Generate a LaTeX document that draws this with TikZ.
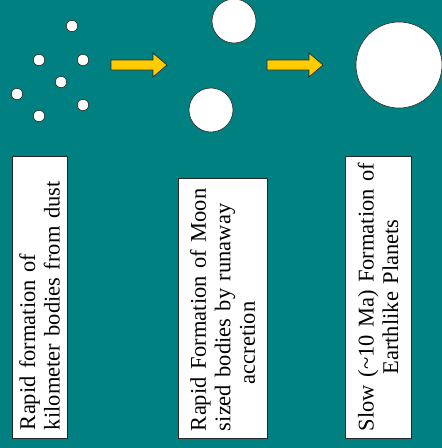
\documentclass[tikz,border=0pt]{standalone}
\usepackage{fontspec}
\setmainfont{Liberation Serif}
\usepackage{tikz}

\definecolor{teal}{RGB}{0,128,128}
\definecolor{gold}{RGB}{255,204,0}
\definecolor{edge}{RGB}{40,40,40}

\tikzset{
  dust/.style={draw=edge, fill=white, line width=0.6pt},
  push/.style={draw=edge, fill=gold, line width=0.7pt, line join=miter},
  stage/.style={draw=edge, fill=white, rotate=90, line width=0.6pt,
    font=\fontsize{22.5pt}{24.5pt}\selectfont, inner ysep=0pt}
}

\begin{document}
\begin{tikzpicture}[x=1pt, y=-1pt]
   \fill [teal] (0, 0) rectangle (442, 448);
   \useasboundingbox (0, 0) rectangle (442, 448);

   % small bodies
   \draw [dust] (72, 26) circle (5.7pt);
   \draw [dust] (39, 60) circle (5.7pt);
   \draw [dust] (83, 60) circle (5.7pt);
   \draw [dust] (61, 82) circle (5.7pt);
   \draw [dust] (17, 94) circle (5.7pt);
   \draw [dust] (83, 105) circle (5.7pt);
   \draw [dust] (39, 116) circle (5.7pt);

   % arrows
   \draw [push] (111, 60) -- (153, 60) -- (153, 53) -- (167, 65) -- (153, 77)
      -- (153, 70) -- (111, 70) -- cycle;
   \draw [push] (267, 60) -- (309, 60) -- (309, 53) -- (323, 65) -- (309, 77)
      -- (309, 70) -- (267, 70) -- cycle;

   % moon sized bodies
   \draw [dust] (234, 21) circle (22pt);
   \draw [dust] (211, 110) circle (22pt);

   % planet
   \draw [dust] (399, 65) circle (43pt);

   % labels
   \node [stage, text width=266pt, inner xsep=8pt, minimum height=55pt, align=left]
      (kilo) at (39.5, 297) {Rapid formation of\\kilometer bodies from dust};
   \node [stage, text width=246pt, inner xsep=7pt, minimum height=89pt, align=left]
      (moon) at (222.5, 308) {Rapid Formation of Moon\\sized bodies by runaway\\\hspace*{47pt}accretion};
   \node [stage, text width=270pt, inner xsep=6pt, minimum height=66pt, align=center]
      (earth) at (378, 297) {Slow (\textasciitilde10 Ma) Formation of\\Earthlike Planets};
\end{tikzpicture}
\end{document}
